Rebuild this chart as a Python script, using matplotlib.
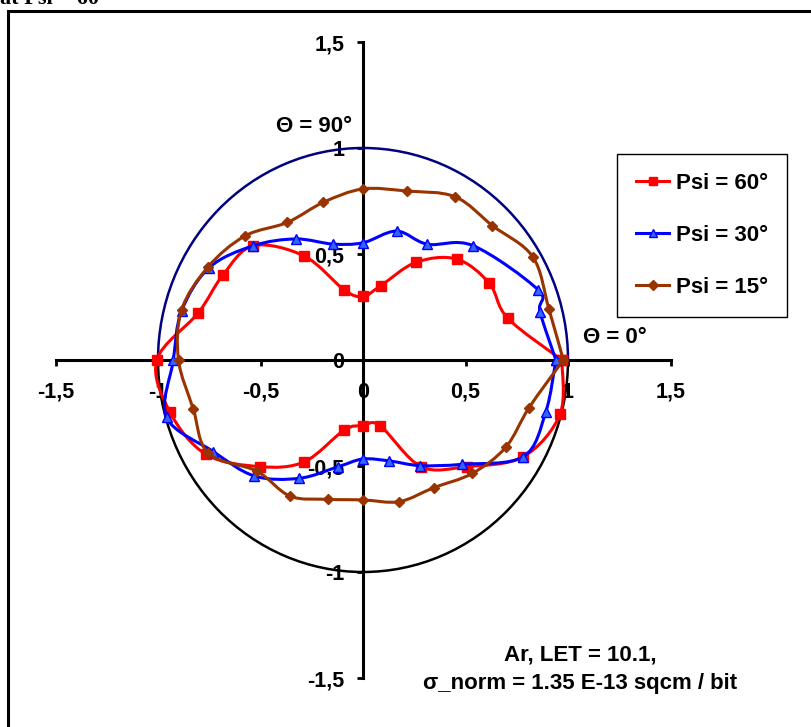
import numpy as np
import matplotlib
matplotlib.use("Agg")
import matplotlib.pyplot as plt
from matplotlib.path import Path
from matplotlib.patches import PathPatch, Arc, Rectangle
from matplotlib.lines import Line2D
from matplotlib.ticker import FuncFormatter

# Psi = 60 deg
red_x = [0.97, 0.706, 0.616, 0.457, 0.259, 0.086, 0.0, -0.091, -0.286, -0.535, -0.684, -0.803, -1.006,
         -0.941, -0.766, -0.502, -0.286, -0.091, 0.0, 0.083, 0.283, 0.506, 0.782, 0.961, 0.97]
red_y = [0.0, 0.197, 0.362, 0.476, 0.461, 0.35, 0.30, 0.33, 0.49, 0.539, 0.40, 0.223, 0.0,
         -0.247, -0.445, -0.503, -0.48, -0.33, -0.31, -0.31, -0.503, -0.503, -0.456, -0.256, 0.0]

# Psi = 30 deg
blue_x = [0.941, 0.863, 0.855, 0.538, 0.314, 0.164, 0.0, -0.148, -0.328, -0.535, -0.751, -0.885, -0.925,
          -0.958, -0.73, -0.53, -0.31, -0.12, 0.0, 0.128, 0.278, 0.485, 0.782, 0.891, 0.941]
blue_y = [0.0, 0.228, 0.33, 0.539, 0.546, 0.608, 0.553, 0.547, 0.571, 0.539, 0.435, 0.231, 0.0,
          -0.27, -0.432, -0.547, -0.558, -0.503, -0.467, -0.476, -0.498, -0.492, -0.456, -0.247, 0.0]

# Psi = 15 deg
brown_x = [0.977, 0.907, 0.828, 0.631, 0.449, 0.213, 0.0, -0.193, -0.369, -0.576, -0.755, -0.885, -0.90,
           -0.828, -0.755, -0.519, -0.356, -0.172, 0.0, 0.177, 0.346, 0.533, 0.696, 0.81, 0.977]
brown_y = [0.0, 0.24, 0.487, 0.634, 0.77, 0.797, 0.807, 0.744, 0.649, 0.585, 0.44, 0.236, 0.0,
           -0.231, -0.44, -0.524, -0.642, -0.657, -0.66, -0.668, -0.602, -0.535, -0.412, -0.225, 0.0]

ticks = [-1.5, -1.0, -0.5, 0.0, 0.5, 1.0, 1.5]

RED = "#FF0000"
BLUE = "#0000FF"
BROWN = "#993300"
NAVY = "#000080"


def smooth_path(xs, ys):
    # Excel-like smoothed line: cubic Bezier segments through the points
    pts = np.column_stack([xs, ys])
    n = len(pts)
    verts = [pts[0]]
    codes = [Path.MOVETO]
    for i in range(n - 1):
        p0 = pts[i - 1] if i > 0 else pts[i]
        p1 = pts[i]
        p2 = pts[i + 1]
        p3 = pts[i + 2] if i + 2 < n else pts[i + 1]
        c1 = p1 + (p2 - p0) / 6.0
        c2 = p2 - (p3 - p1) / 6.0
        verts += [c1, c2, p2]
        codes += [Path.CURVE4] * 3
    return Path(verts, codes)


fig = plt.figure(figsize=(8.11, 7.27), dpi=100)
ax = fig.add_axes([55.5 / 811, 49 / 727, 615 / 811, 636 / 727])
ax.set_xlim(-1.5, 1.5)
ax.set_ylim(-1.5, 1.5)

# unit circle
ax.add_patch(Arc((0, 0), 2, 2, theta1=0, theta2=180, color=NAVY, lw=1.8, zorder=2))
ax.add_patch(Arc((0, 0), 2, 2, theta1=180, theta2=360, color="black", lw=1.8, zorder=2))

series = [
    (red_x, red_y, RED, "s", RED, RED, 6.5, "Psi = 60°"),
    (blue_x, blue_y, BLUE, "^", "#3366FF", BLUE, 7.5, "Psi = 30°"),
    (brown_x, brown_y, BROWN, "D", BROWN, BROWN, 5.5, "Psi = 15°"),
]
handles = []
for z, (xs, ys, col, mk, fc, ec, ms, lab) in enumerate(series):
    ax.add_patch(PathPatch(smooth_path(xs, ys), fill=False, edgecolor=col, lw=2.2, zorder=3 + 2 * z))
    ax.plot(xs, ys, linestyle="none", marker=mk, markersize=ms, markerfacecolor=fc,
            markeredgecolor=ec, markeredgewidth=1.0, zorder=4 + 2 * z)
    handles.append(Line2D([], [], color=col, lw=2.2, marker=mk, markersize=ms * 0.85,
                          markerfacecolor=fc, markeredgecolor=ec, label=lab))

# axes through the origin
for s in ["top", "right"]:
    ax.spines[s].set_visible(False)
for s in ["left", "bottom"]:
    ax.spines[s].set_position(("data", 0))
    ax.spines[s].set_linewidth(2.2)
    ax.spines[s].set_zorder(1)

ax.set_xticks(ticks)
ax.set_yticks(ticks)
fmt = FuncFormatter(lambda v, p: ("%g" % v).replace(".", ","))
ax.xaxis.set_major_formatter(fmt)
ax.yaxis.set_major_formatter(fmt)
for lab in ax.get_xticklabels() + ax.get_yticklabels():
    lab.set_fontfamily("Liberation Sans")
    lab.set_fontweight("bold")
    lab.set_fontsize(15.5)
ax.tick_params(axis="x", direction="out", length=4.5, width=2, pad=11)
ax.tick_params(axis="y", direction="out", length=4.5, width=2, pad=9)

text_font = {"family": "Liberation Sans", "weight": "bold", "size": 16}
ax.text(-0.054, 1.10, "Θ = 90°", ha="right", va="center", **text_font)
ax.text(1.073, 0.108, "Θ = 0°", ha="left", va="center", **text_font)

leg = fig.legend(handles=handles, loc="upper left", bbox_to_anchor=(617 / 811, 1 - 154 / 727),
                 frameon=True, fancybox=False, edgecolor="black", framealpha=1,
                 prop={"family": "Liberation Sans", "weight": "bold", "size": 16},
                 labelspacing=1.4, handlelength=1.5, handletextpad=0.3, borderpad=0.85,
                 borderaxespad=0)
leg.get_frame().set_linewidth(1.0)

fig.text(580 / 811, 1 - 655 / 727, "Ar, LET = 10.1,", ha="center", va="center", **text_font)
fig.text(580 / 811, 1 - 683 / 727, "σ_norm = 1.35 E-13 sqcm / bit", ha="center", va="center", **text_font)

# outer frame and the caption above it, clipped by the figure edge as in the source
fig.patches.append(Rectangle((7.5 / 811, -0.1), 1.2, (727 - 10.5) / 727 + 0.1, fill=False,
                             edgecolor="black", lw=2.2, transform=fig.transFigure, figure=fig))
fig.text(0.0, 1 - 4 / 727, "at Psi = 60", ha="left", va="baseline",
         family="Liberation Serif", weight="bold", size=16)

fig.savefig("out.png", dpi=100)
